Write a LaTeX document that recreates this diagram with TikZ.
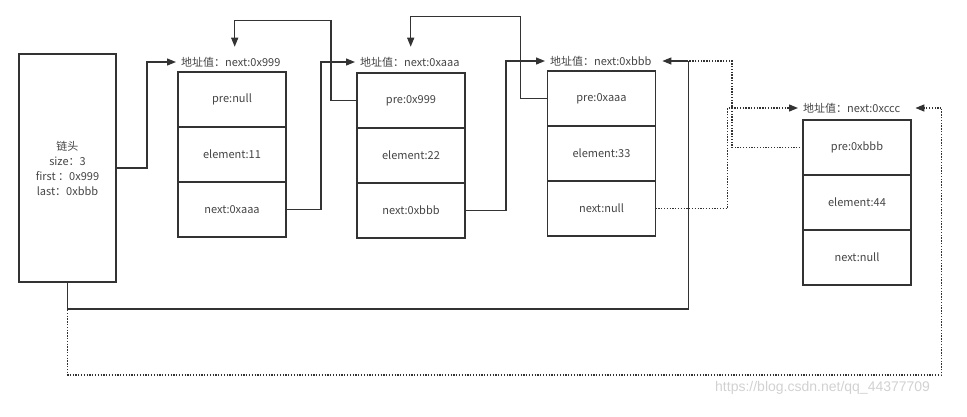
\documentclass[tikz,border=0pt]{standalone}
\usepackage{fontspec}
\setmainfont{Noto Sans CJK SC}
\newfontfamily\wmfont{Liberation Sans}
\usetikzlibrary{arrows.meta,positioning,calc}
\definecolor{ink}{HTML}{333333}
\definecolor{txt}{HTML}{444444}
\tikzset{
  x=1pt,y=-1pt,
  field/.style={draw=ink,line width=1.2pt,minimum width=108pt,minimum height=55pt,inner sep=0pt,outer sep=0pt,text=txt,font=\fontsize{11}{12}\selectfont},
  addr/.style={anchor=west,inner xsep=5pt,inner ysep=2pt,text width=107pt,align=left,text=txt,font=\fontsize{11}{12}\selectfont},
  link/.style={draw=ink,line width=1.2pt},
  arr/.style={link,-{Triangle[length=9pt,width=7pt]}},
  dots/.style={draw=ink,line width=1.3pt,dash pattern=on 1.3pt off 1.5pt},
  darr/.style={dots,-{Triangle[length=9pt,width=7pt]}}
}
\begin{document}
\begin{tikzpicture}
\useasboundingbox (0,0) rectangle (967,416);
% head
\node[field,minimum width=97pt,minimum height=228pt,align=center,font=\fontsize{11}{15}\selectfont] (h) at (67.5,168)
  {链头\\size：3\\first ：0x999\\last：0xbbb};
% node 1
\node[field] (n1p) at (232,99.5) {pre:null};
\node[field,below=0pt of n1p] (n1e) {element:11};
\node[field,below=0pt of n1e] (n1n) {next:0xaaa};
% node 2
\node[field] (n2p) at (411,100.5) {pre:0x999};
\node[field,below=0pt of n2p] (n2e) {element:22};
\node[field,below=0pt of n2e] (n2n) {next:0xbbb};
% node 3
\node[field] (n3p) at (601.5,98.5) {pre:0xaaa};
\node[field,below=0pt of n3p] (n3e) {element:33};
\node[field,below=0pt of n3e] (n3n) {next:null};
% node 4
\node[field] (n4p) at (857,147.5) {pre:0xbbb};
\node[field,below=0pt of n4p] (n4e) {element:44};
\node[field,below=0pt of n4e] (n4n) {next:null};
% address labels
\node[addr] (l1) at (176,62) {地址值：next:0x999};
\node[addr] (l2) at (355,62) {地址值：next:0xaaa};
\node[addr] (l3) at (545,61) {地址值：next:0xbbb};
\node[addr] (l4) at (798,108) {地址值：next:0xccc};
% dotted links
\draw[dots] (h.south) -- ++(0,93) -| ([xshift=26pt]l4.east);
\draw[darr] ([xshift=26pt]l4.east) -- (l4.east);
\draw[dots] (n4p.west) -- ++(-71,0) |- ([xshift=26pt]l3.east);
\draw[darr] (n3n.east) -- ++(72,0) |- (l4.west);
% solid links
\draw[arr] (h.east) -- ++(31,0) |- (l1.west);
\draw[arr] (n1n.east) -- ++(35,0) |- (l2.west);
\draw[arr] (n2n.east) -- ++(41,0) |- (l3.west);
\draw[arr] (n2p.west) -- ++(-26,0) -- ++(0,-80) -| ([yshift=8pt]l1.north);
\draw[arr] (n3p.west) -- ++(-27,0) -- ++(0,-82) -| ([xshift=-3pt,yshift=8pt]l2.north);
\draw[link] (h.south) -- ++(0,27) -| ([xshift=26pt]l3.east);
\draw[arr] ([xshift=26pt]l3.east) -- (l3.east);
% watermark
\node[anchor=west,text=black!18,font=\wmfont\fontsize{14}{16}\selectfont,inner sep=0pt] (wm) at (715,388) {https://blog.csdn.net/qq\_44377709};
\end{tikzpicture}
\end{document}
